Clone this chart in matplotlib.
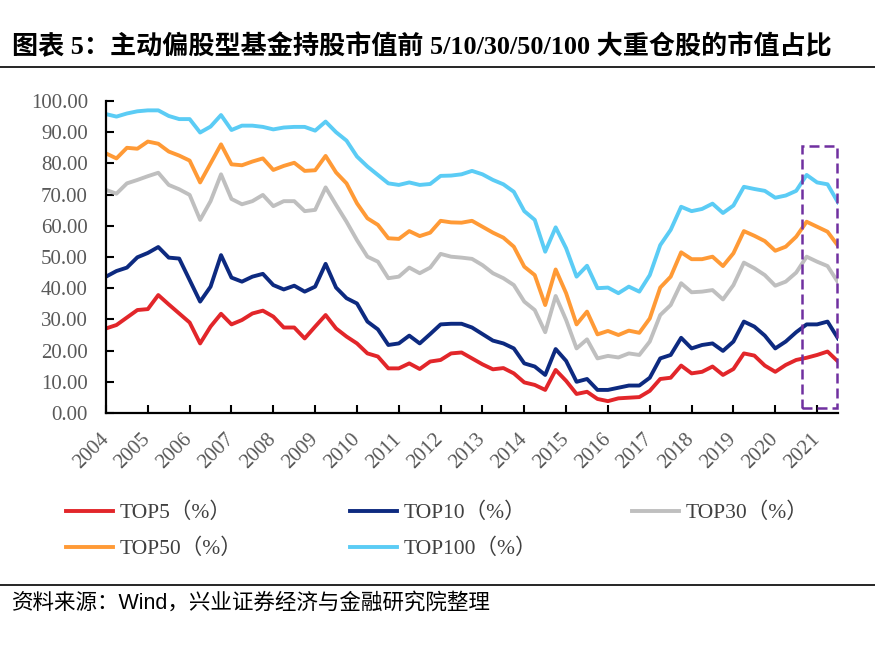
import matplotlib
matplotlib.use('Agg')
import matplotlib.pyplot as plt
from matplotlib.lines import Line2D
from matplotlib.patches import Rectangle
from matplotlib.ticker import FormatStrFormatter
from matplotlib.font_manager import FontProperties

years = [str(y) for y in range(2004, 2022)]

top5 = [27.1, 28.2, 30.6, 33.0, 33.3, 37.8, 34.8, 31.9, 29.0, 22.3, 27.7, 31.8, 28.4, 29.8,
        31.9, 32.8, 30.9, 27.4, 27.4, 23.9, 27.7, 31.4, 27.1, 24.5, 22.3, 19.1, 18.1, 14.3,
        14.3, 15.9, 14.1, 16.5, 17.0, 19.1, 19.4, 17.5, 15.6, 14.0, 14.4, 12.7, 9.8, 9.0,
        7.4, 13.8, 10.3, 6.1, 6.8, 4.5, 3.8, 4.7, 4.9, 5.1, 7.1, 10.9, 11.3, 15.2,
        12.7, 13.2, 14.9, 12.2, 14.1, 19.1, 18.4, 15.2, 13.2, 15.4, 17.0, 17.7, 18.6, 19.7, 16.5]

top10 = [43.7, 45.5, 46.6, 49.9, 51.3, 53.2, 49.8, 49.5, 42.6, 35.7, 40.5, 50.6, 43.4, 42.1,
         43.7, 44.6, 41.0, 39.6, 40.8, 38.9, 40.5, 47.8, 40.2, 36.8, 35.1, 29.3, 26.8, 21.8,
         22.3, 24.8, 22.3, 25.3, 28.4, 28.6, 28.6, 27.4, 25.3, 23.2, 22.3, 20.7, 15.9, 14.9,
         12.2, 20.5, 16.7, 10.0, 10.9, 7.4, 7.4, 8.1, 8.8, 8.8, 11.3, 17.5, 18.6, 24.1,
         20.7, 21.8, 22.3, 19.9, 22.9, 29.3, 27.7, 24.8, 20.7, 22.9, 25.9, 28.4, 28.4, 29.3, 23.9]

top30 = [71.5, 70.3, 73.6, 74.7, 75.9, 77.0, 73.1, 71.7, 69.9, 61.9, 67.9, 76.5, 68.6, 66.9,
         67.9, 69.9, 66.3, 67.9, 67.9, 64.7, 65.1, 72.3, 66.7, 61.3, 55.4, 50.1, 48.5, 43.2,
         43.7, 46.6, 44.8, 46.6, 51.0, 50.1, 49.8, 49.4, 47.4, 44.8, 43.2, 41.0, 35.7, 33.0,
         25.9, 37.5, 29.8, 20.7, 23.6, 17.5, 18.3, 17.8, 19.1, 18.6, 22.9, 31.4, 34.6, 41.6,
         38.7, 38.9, 39.4, 36.4, 41.0, 48.2, 46.4, 44.2, 40.8, 42.1, 45.0, 50.1, 48.5, 47.1, 41.9]

top50 = [83.2, 81.6, 85.0, 84.7, 87.0, 86.3, 83.8, 82.5, 80.9, 73.9, 80.0, 86.1, 79.7, 79.4,
         80.6, 81.6, 77.9, 79.2, 80.2, 77.6, 77.8, 82.4, 77.1, 73.6, 67.2, 62.4, 60.3, 56.0,
         55.8, 58.3, 56.7, 57.8, 61.6, 61.1, 61.0, 61.6, 59.7, 57.8, 56.2, 53.3, 46.9, 44.2,
         34.6, 46.0, 38.4, 28.4, 32.5, 25.2, 26.3, 25.0, 26.4, 25.7, 30.3, 40.2, 43.7, 51.5,
         49.3, 49.3, 50.1, 47.1, 51.2, 58.3, 56.8, 55.1, 52.0, 53.3, 56.5, 61.3, 59.7, 58.1, 53.6]

top100 = [95.8, 95.0, 96.0, 96.7, 97.0, 97.0, 95.2, 94.2, 94.2, 89.9, 91.8, 95.5, 90.7, 92.1,
          92.1, 91.7, 90.9, 91.5, 91.7, 91.7, 90.5, 93.4, 90.0, 87.3, 82.2, 79.0, 76.3, 73.6,
          73.1, 73.9, 73.1, 73.4, 76.0, 76.1, 76.5, 77.6, 76.5, 74.7, 73.3, 70.9, 64.7, 61.9,
          51.7, 59.5, 52.8, 43.7, 47.2, 40.0, 40.2, 38.4, 40.5, 38.9, 44.2, 53.8, 58.7, 66.1,
          64.7, 65.4, 67.1, 64.1, 66.5, 72.5, 71.8, 71.2, 69.0, 69.7, 71.2, 76.3, 73.9, 73.3, 67.5]

labels = ['TOP5（%）', 'TOP10（%）', 'TOP30（%）', 'TOP50（%）', 'TOP100（%）']
colors = ['#E2262A', '#0D2A80', '#BFBFBF', '#FF9A36', '#5BCCF5']

W, H = 875, 650
fig = plt.figure(figsize=(W / 100, H / 100), dpi=100)
ax = fig.add_axes([106 / W, 1 - 413 / H, 732 / W, 312 / H])

x = list(range(len(top5)))
lines = []
for vals, c, lab in zip([top5, top10, top30, top50, top100], colors, labels):
    ln, = ax.plot(x, vals, color=c, lw=2.8, label=lab)
    lines.append(ln)

ax.set_xlim(0, len(top5) - 1)
ax.set_ylim(0, 100)
for s in ['top', 'right']:
    ax.spines[s].set_visible(False)
for s in ['left', 'bottom']:
    ax.spines[s].set_linewidth(1.6)
    ax.spines[s].set_color('black')

serif = ['Liberation Serif', 'Noto Sans CJK SC']
ax.set_yticks(range(0, 101, 10))
ax.yaxis.set_major_formatter(FormatStrFormatter('%.2f'))
ax.set_xticks(range(0, 4 * len(years), 4))
ax.set_xticklabels(years, rotation=45, ha='right', va='center', rotation_mode='anchor')
ax.tick_params(axis='both', direction='in', length=6, width=1.5, color='black',
               labelcolor='#595959', labelsize=15)
ax.tick_params(axis='y', pad=13)
ax.tick_params(axis='x', pad=17)
for t in ax.get_xticklabels() + ax.get_yticklabels():
    t.set_fontfamily(serif)

ax.add_patch(Rectangle((66.6, 1.5), 3.35, 84.1, fill=False, ec='#7030A0', lw=1.8,
                       ls=(0, (4, 2)), clip_on=False, zorder=5))

# title and source
fig.text(12 / W, 1 - 46 / H, '图表 5：主动偏股型基金持股市值前 5/10/30/50/100 大重仓股的市值占比',
         fontsize=18.8, family=serif, weight='bold', va='center', ha='left', color='black')
fig.add_artist(Line2D([0, 1], [1 - 67 / H] * 2, transform=fig.transFigure, color='black', lw=1.2))
fig.add_artist(Line2D([0, 1], [1 - 585 / H] * 2, transform=fig.transFigure, color='black', lw=1.2))
fig.text(12 / W, 1 - 603 / H, '资料来源：Wind，兴业证券经济与金融研究院整理',
         fontsize=15.5, family=['Liberation Sans', 'Noto Sans CJK SC'], va='center', ha='left')

# legends
prop = FontProperties(family=serif, size=15.5)
common = dict(frameon=False, borderpad=0, borderaxespad=0, handlelength=2.2,
              handletextpad=0.3, labelspacing=0.72, prop=prop, labelcolor='#404040')
fig.legend([lines[0], lines[3]], [labels[0], labels[3]], loc='center left',
           bbox_to_anchor=(66 / W, 1 - 531 / H), **common)
fig.legend([lines[1], lines[4]], [labels[1], labels[4]], loc='center left',
           bbox_to_anchor=(350 / W, 1 - 531 / H), **common)
fig.legend([lines[2]], [labels[2]], loc='center left',
           bbox_to_anchor=(632 / W, 1 - 513 / H), **common)

fig.savefig('out.png', dpi=100)
